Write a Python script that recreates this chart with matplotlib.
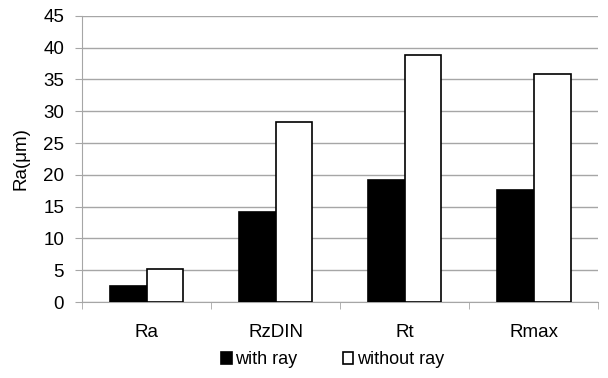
import numpy as np
import matplotlib.pyplot as plt

plt.rcParams['font.family'] = ['Liberation Sans', 'DejaVu Sans']

categories = ["Ra", "RzDIN", "Rt", "Rmax"]
with_ray = [2.5, 14.1, 19.2, 17.6]
without_ray = [5.2, 28.3, 38.9, 35.8]

x = np.arange(len(categories))
w = 0.285

fig = plt.figure(figsize=(6.08, 3.78), dpi=100)
ax = fig.add_axes([0.135, 0.201, 0.849, 0.757])

ax.bar(x - w/2, with_ray, w, color="black", edgecolor="black", linewidth=1.2,
       label="with ray", zorder=3)
ax.bar(x + w/2, without_ray, w, color="white", edgecolor="black", linewidth=1.2,
       label="without ray", zorder=3)

ax.set_xlim(-0.5, len(categories) - 0.5)
ax.set_ylim(0, 45)
ax.set_yticks(np.arange(0, 46, 5))
ax.yaxis.grid(True, color="#a6a6a6", linewidth=1)
ax.set_axisbelow(True)

ax.set_xticks(x)
ax.set_xticklabels(categories, fontsize=13.5)
ax.set_xticks(np.arange(-0.5, len(categories), 1), minor=True)
ax.tick_params(axis="x", which="major", length=0, pad=16)
ax.tick_params(axis="x", which="minor", length=5, color="#a6a6a6")
ax.tick_params(axis="y", length=5, color="#a6a6a6", labelsize=13.5, pad=8)

for s in ["top", "right"]:
    ax.spines[s].set_visible(False)
for s in ["left", "bottom"]:
    ax.spines[s].set_color("#a6a6a6")

ax.set_ylabel("Ra(μm)", fontsize=13.5, labelpad=10)

ax.legend(loc="upper center", bbox_to_anchor=(0.485, -0.115), ncol=2, frameon=False,
          fontsize=13, handlelength=0.6, handleheight=0.6, handletextpad=0.2,
          columnspacing=2.5)

fig.savefig("out.png", dpi=100)
